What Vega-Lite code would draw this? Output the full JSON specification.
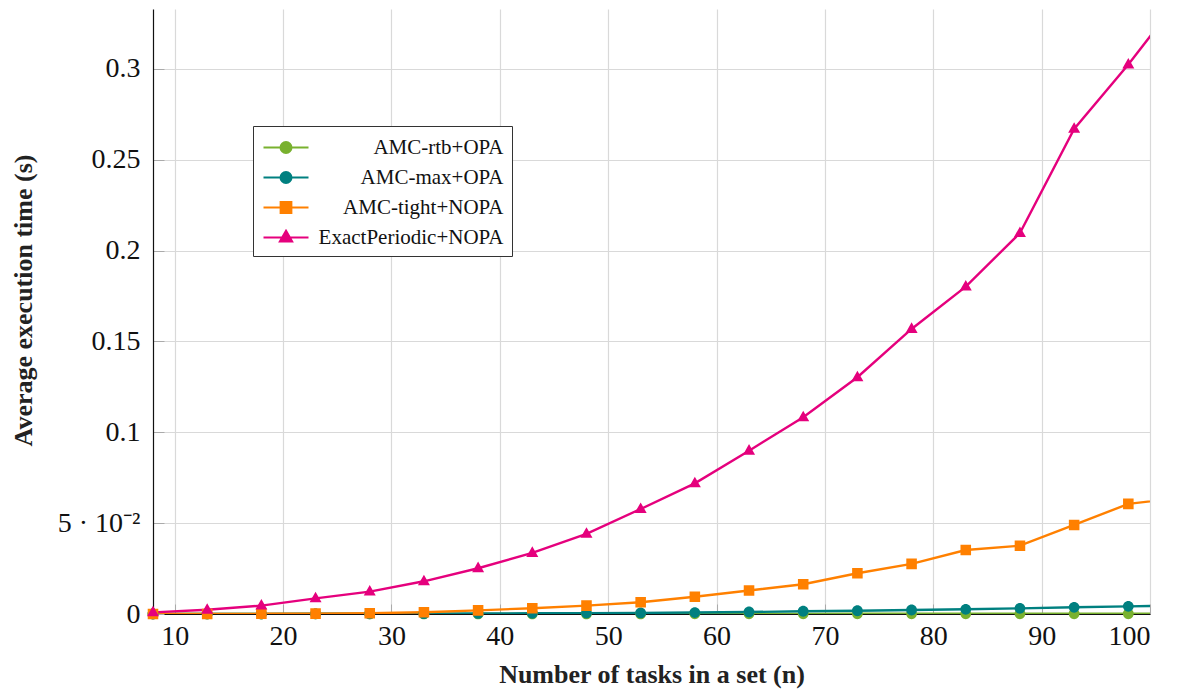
{
  "$schema": "https://vega.github.io/schema/vega-lite/v6.json",
  "width": 997,
  "height": 605,
  "autosize": {"type": "none"},
  "padding": {"left": 153, "top": 9, "right": 32, "bottom": 77},
  "background": "white",
  "data": {
    "values": [
      {"n": 8, "series": "AMC-rtb+OPA", "t": 0.000005},
      {"n": 13, "series": "AMC-rtb+OPA", "t": 0.000008},
      {"n": 18, "series": "AMC-rtb+OPA", "t": 0.00001},
      {"n": 23, "series": "AMC-rtb+OPA", "t": 0.000015},
      {"n": 28, "series": "AMC-rtb+OPA", "t": 0.00002},
      {"n": 33, "series": "AMC-rtb+OPA", "t": 0.000025},
      {"n": 38, "series": "AMC-rtb+OPA", "t": 0.00003},
      {"n": 43, "series": "AMC-rtb+OPA", "t": 0.00004},
      {"n": 48, "series": "AMC-rtb+OPA", "t": 0.00005},
      {"n": 53, "series": "AMC-rtb+OPA", "t": 0.00006},
      {"n": 58, "series": "AMC-rtb+OPA", "t": 0.00007},
      {"n": 63, "series": "AMC-rtb+OPA", "t": 0.00008},
      {"n": 68, "series": "AMC-rtb+OPA", "t": 0.00009},
      {"n": 73, "series": "AMC-rtb+OPA", "t": 0.0001},
      {"n": 78, "series": "AMC-rtb+OPA", "t": 0.00011},
      {"n": 83, "series": "AMC-rtb+OPA", "t": 0.00012},
      {"n": 88, "series": "AMC-rtb+OPA", "t": 0.00013},
      {"n": 93, "series": "AMC-rtb+OPA", "t": 0.00014},
      {"n": 98, "series": "AMC-rtb+OPA", "t": 0.00015},
      {"n": 103, "series": "AMC-rtb+OPA", "t": 0.00016},
      {"n": 8, "series": "AMC-max+OPA", "t": 0.00001},
      {"n": 13, "series": "AMC-max+OPA", "t": 0.00002},
      {"n": 18, "series": "AMC-max+OPA", "t": 0.00005},
      {"n": 23, "series": "AMC-max+OPA", "t": 0.0001},
      {"n": 28, "series": "AMC-max+OPA", "t": 0.00015},
      {"n": 33, "series": "AMC-max+OPA", "t": 0.0002},
      {"n": 38, "series": "AMC-max+OPA", "t": 0.0003},
      {"n": 43, "series": "AMC-max+OPA", "t": 0.0004},
      {"n": 48, "series": "AMC-max+OPA", "t": 0.0005},
      {"n": 53, "series": "AMC-max+OPA", "t": 0.0006},
      {"n": 58, "series": "AMC-max+OPA", "t": 0.0008},
      {"n": 63, "series": "AMC-max+OPA", "t": 0.0011},
      {"n": 68, "series": "AMC-max+OPA", "t": 0.0015},
      {"n": 73, "series": "AMC-max+OPA", "t": 0.0018},
      {"n": 78, "series": "AMC-max+OPA", "t": 0.0022},
      {"n": 83, "series": "AMC-max+OPA", "t": 0.0026},
      {"n": 88, "series": "AMC-max+OPA", "t": 0.0031},
      {"n": 93, "series": "AMC-max+OPA", "t": 0.0037},
      {"n": 98, "series": "AMC-max+OPA", "t": 0.0042},
      {"n": 103, "series": "AMC-max+OPA", "t": 0.0047},
      {"n": 8, "series": "AMC-tight+NOPA", "t": 0.00002},
      {"n": 13, "series": "AMC-tight+NOPA", "t": 0.00004},
      {"n": 18, "series": "AMC-tight+NOPA", "t": 0.0001},
      {"n": 23, "series": "AMC-tight+NOPA", "t": 0.0002},
      {"n": 28, "series": "AMC-tight+NOPA", "t": 0.0004},
      {"n": 33, "series": "AMC-tight+NOPA", "t": 0.001},
      {"n": 38, "series": "AMC-tight+NOPA", "t": 0.002},
      {"n": 43, "series": "AMC-tight+NOPA", "t": 0.0032},
      {"n": 48, "series": "AMC-tight+NOPA", "t": 0.0046},
      {"n": 53, "series": "AMC-tight+NOPA", "t": 0.0065},
      {"n": 58, "series": "AMC-tight+NOPA", "t": 0.0095},
      {"n": 63, "series": "AMC-tight+NOPA", "t": 0.0129},
      {"n": 68, "series": "AMC-tight+NOPA", "t": 0.0164},
      {"n": 73, "series": "AMC-tight+NOPA", "t": 0.0224},
      {"n": 78, "series": "AMC-tight+NOPA", "t": 0.0276},
      {"n": 83, "series": "AMC-tight+NOPA", "t": 0.0352},
      {"n": 88, "series": "AMC-tight+NOPA", "t": 0.0376},
      {"n": 93, "series": "AMC-tight+NOPA", "t": 0.049},
      {"n": 98, "series": "AMC-tight+NOPA", "t": 0.0606},
      {"n": 103, "series": "AMC-tight+NOPA", "t": 0.0641},
      {"n": 8, "series": "ExactPeriodic+NOPA", "t": 0.0009},
      {"n": 13, "series": "ExactPeriodic+NOPA", "t": 0.0023},
      {"n": 18, "series": "ExactPeriodic+NOPA", "t": 0.0046},
      {"n": 23, "series": "ExactPeriodic+NOPA", "t": 0.0086},
      {"n": 28, "series": "ExactPeriodic+NOPA", "t": 0.0123},
      {"n": 33, "series": "ExactPeriodic+NOPA", "t": 0.018},
      {"n": 38, "series": "ExactPeriodic+NOPA", "t": 0.0252},
      {"n": 43, "series": "ExactPeriodic+NOPA", "t": 0.0336},
      {"n": 48, "series": "ExactPeriodic+NOPA", "t": 0.0441},
      {"n": 53, "series": "ExactPeriodic+NOPA", "t": 0.0578},
      {"n": 58, "series": "ExactPeriodic+NOPA", "t": 0.0719},
      {"n": 63, "series": "ExactPeriodic+NOPA", "t": 0.0899},
      {"n": 68, "series": "ExactPeriodic+NOPA", "t": 0.1083},
      {"n": 73, "series": "ExactPeriodic+NOPA", "t": 0.1303},
      {"n": 78, "series": "ExactPeriodic+NOPA", "t": 0.1569},
      {"n": 83, "series": "ExactPeriodic+NOPA", "t": 0.1802},
      {"n": 88, "series": "ExactPeriodic+NOPA", "t": 0.2097},
      {"n": 93, "series": "ExactPeriodic+NOPA", "t": 0.267},
      {"n": 98, "series": "ExactPeriodic+NOPA", "t": 0.3024},
      {"n": 103, "series": "ExactPeriodic+NOPA", "t": 0.341}
    ]
  },
  "encoding": {
    "x": {
      "field": "n",
      "type": "quantitative",
      "scale": {"domain": [8, 100], "nice": false, "zero": false},
      "axis": {
        "title": "Number of tasks in a set (n)",
        "values": [10, 20, 30, 40, 50, 60, 70, 80, 90, 100],
        "format": "d",
        "tickSize": -10,
        "labelPadding": 18,
        "titlePadding": 11
      }
    },
    "y": {
      "field": "t",
      "type": "quantitative",
      "scale": {"domain": [0, 0.333], "nice": false},
      "axis": {
        "title": "Average execution time (s)",
        "values": [0, 0.05, 0.1, 0.15, 0.2, 0.25, 0.3],
        "labelExpr": "datum.value === 0.05 ? '5 · 10⁻²' : format(datum.value, '~g')",
        "tickSize": -11,
        "labelPadding": 24,
        "titlePadding": 21,
        "titleY": 291
      }
    },
    "color": {
      "field": "series",
      "type": "nominal",
      "scale": {
        "domain": ["AMC-rtb+OPA", "AMC-max+OPA", "AMC-tight+NOPA", "ExactPeriodic+NOPA"],
        "range": ["#79b12f", "#008080", "#ff8000", "#e5007d"]
      },
      "legend": {
        "title": null,
        "orient": "none",
        "legendX": 100,
        "legendY": 117,
        "labelAlign": "right",
        "labelOffset": 204,
        "labelLimit": 300,
        "labelFont": "Liberation Serif",
        "labelFontSize": 21,
        "labelColor": "#111",
        "symbolSize": 576,
        "symbolOffset": 11.5,
        "symbolStrokeWidth": 2,
        "symbolOpacity": 1,
        "padding": 8,
        "rowPadding": 6,
        "strokeColor": "#333",
        "fillColor": "white",
        "cornerRadius": 0,
        "encode": {
          "symbols": {
            "update": {
              "stroke": {"scale": "color", "field": "value"},
              "strokeWidth": {"value": 2.2}
            }
          },
          "labels": {
            "update": {
              "font": {"value": "Liberation Serif"},
              "fontSize": {"value": 21},
              "fill": {"value": "#111"}
            }
          }
        }
      }
    }
  },
  "layer": [
    {
      "mark": {"type": "line", "strokeWidth": 2.4, "clip": true}
    },
    {
      "transform": [{"filter": "datum.n <= 100"}],
      "mark": {"type": "point", "filled": true, "opacity": 1},
      "encoding": {
        "shape": {
          "field": "series",
          "type": "nominal",
          "scale": {
            "domain": ["AMC-rtb+OPA", "AMC-max+OPA", "AMC-tight+NOPA", "ExactPeriodic+NOPA"],
            "range": [
              "M-1.875,0H1.875M0.45,0A0.45,0.45 0 1 1 -0.45,0A0.45,0.45 0 1 1 0.45,0Z",
              "M-1.875,0H1.875M0.45,0A0.45,0.45 0 1 1 -0.45,0A0.45,0.45 0 1 1 0.45,0Z",
              "M-1.875,0H1.875M-0.44,-0.44H0.44V0.44H-0.44Z",
              "M-1.875,0H1.875M0,-0.55L0.5,0.33L-0.5,0.33Z"
            ]
          },
          "legend": null
        },
        "size": {"value": 576}
      }
    }
  ],
  "config": {
    "font": "Liberation Serif",
    "view": {"stroke": null},
    "axis": {
      "labelFont": "Liberation Serif",
      "labelFontSize": 28,
      "labelColor": "#111",
      "titleFont": "Liberation Serif",
      "titleFontSize": 26,
      "titleFontWeight": "bold",
      "titleColor": "#222",
      "domainColor": "#111",
      "domainWidth": 1.2,
      "tickColor": "#aaa",
      "tickWidth": 1,
      "gridColor": "#d9d9d9",
      "gridWidth": 1.2,
      "grid": true
    },
    "legend": {
      "labelFont": "Liberation Serif",
      "labelFontSize": 21
    }
  }
}
